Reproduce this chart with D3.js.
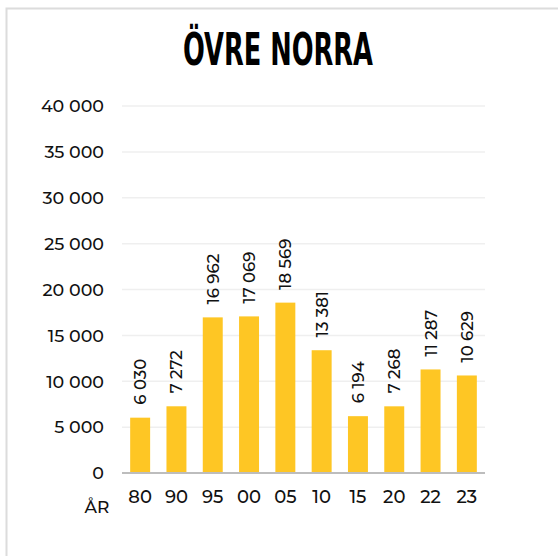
<!DOCTYPE html>
<html>
<head>
<meta charset="utf-8">
<script src="https://cdn.jsdelivr.net/npm/d3@7"></script>
<style>
  html, body { margin: 0; padding: 0; background: #fff; }
</style>
</head>
<body>
<div id="chart"></div>
<script>
// data
var years = ["80", "90", "95", "00", "05", "10", "15", "20", "22", "23"];
var values = [6030, 7272, 16962, 17069, 18569, 13381, 6194, 7268, 11287, 10629];
var yTicks = [0, 5000, 10000, 15000, 20000, 25000, 30000, 35000, 40000];
var title = "ÖVRE NORRA";
var xTitle = "ÅR";

var width = 558;
var height = 556;
var font = "Montserrat, 'DejaVu Sans', sans-serif";

var svg = d3.select("#chart").append("svg")
  .attr("width", width)
  .attr("height", height);

// panel border (top and left only visible)
svg.append("path")
  .attr("d", "M6.5,556 V8.5 H558")
  .attr("fill", "none")
  .attr("stroke", "#dcdcdc")
  .attr("stroke-width", 2);

// title, squeezed to look like a condensed display face
svg.append("text")
  .attr("x", 183)
  .attr("y", 65)
  .attr("textLength", 190)
  .attr("lengthAdjust", "spacingAndGlyphs")
  .attr("font-family", "'DejaVu Sans Condensed', 'DejaVu Sans', sans-serif")
  .attr("font-weight", "bold")
  .attr("font-size", 45)
  .attr("fill", "#000")
  .text(title);

var x = d3.scaleBand()
  .domain(years)
  .range([122, 485])
  .paddingInner(0.45)
  .paddingOuter(0.225);

var y = d3.scaleLinear()
  .domain([0, 40000])
  .range([473, 106]);

var fmt = function(v) { return d3.format(",")(v).replace(/,/g, " "); };

// grid
svg.append("g").selectAll("line")
  .data(yTicks.slice(1))
  .enter().append("line")
  .attr("x1", 122).attr("x2", 485)
  .attr("y1", function(d) { return y(d); })
  .attr("y2", function(d) { return y(d); })
  .attr("stroke", "#efefef")
  .attr("stroke-width", 1.5);

// y labels
svg.append("g").selectAll("text")
  .data(yTicks)
  .enter().append("text")
  .attr("x", 104)
  .attr("y", function(d) { return y(d); })
  .attr("dy", "0.36em")
  .attr("text-anchor", "end")
  .attr("font-family", font)
  .attr("font-weight", 500)
  .attr("font-size", 17.5)
  .attr("fill", "#111")
  .text(fmt);

// bars
svg.append("g").selectAll("rect")
  .data(values)
  .enter().append("rect")
  .attr("x", function(d, i) { return x(years[i]); })
  .attr("width", x.bandwidth())
  .attr("y", function(d) { return y(d); })
  .attr("height", function(d) { return y(0) - y(d); })
  .attr("fill", "#fec624");

// zero line
svg.append("line")
  .attr("x1", 122).attr("x2", 485)
  .attr("y1", y(0)).attr("y2", y(0))
  .attr("stroke", "#bdbdbd")
  .attr("stroke-width", 2);

// value labels (rotated)
svg.append("g").selectAll("text")
  .data(values)
  .enter().append("text")
  .attr("transform", function(d, i) {
    return "translate(" + (x(years[i]) + x.bandwidth() / 2) + "," + (y(d) - 13) + ") rotate(-90)";
  })
  .attr("dy", "0.36em")
  .attr("text-anchor", "start")
  .attr("font-family", font)
  .attr("font-weight", 500)
  .attr("font-size", 16.5)
  .attr("fill", "#111")
  .text(fmt);

// x labels
svg.append("g").selectAll("text")
  .data(years)
  .enter().append("text")
  .attr("x", function(d) { return x(d) + x.bandwidth() / 2; })
  .attr("y", 503)
  .attr("text-anchor", "middle")
  .attr("font-family", font)
  .attr("font-weight", 500)
  .attr("font-size", 18)
  .attr("fill", "#111")
  .text(function(d) { return d; });

svg.append("text")
  .attr("x", 97)
  .attr("y", 513)
  .attr("text-anchor", "middle")
  .attr("font-family", font)
  .attr("font-weight", 500)
  .attr("font-size", 17)
  .attr("fill", "#111")
  .text(xTitle);
</script>
</body>
</html>
